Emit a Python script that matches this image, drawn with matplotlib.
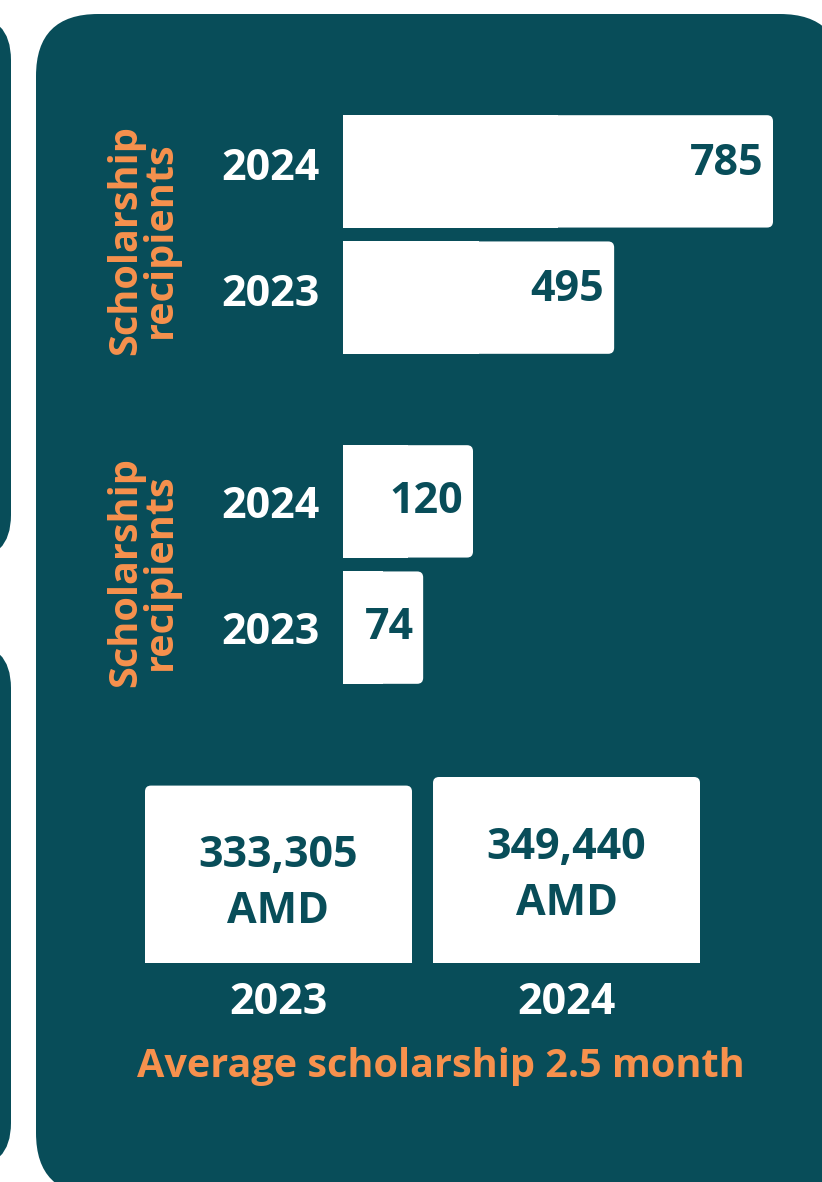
"""Scholarship recipients and average scholarship panel."""

import matplotlib.pyplot as plt
import matplotlib.transforms as mtransforms
from matplotlib.patches import FancyBboxPatch, Rectangle

TEAL = "#084d59"
ORANGE = "#f7914d"
FONT = "Open Sans"

# data
years_top = ["2023", "2024"]
recipients_top = [495, 785]
years_mid = ["2023", "2024"]
recipients_mid = [74, 120]
years_avg = ["2023", "2024"]
avg_amd = [333305, 349440]
avg_labels = ["333,305\nAMD", "349,440\nAMD"]
group_label = "Scholarship\nrecipients"
caption = "Average scholarship 2.5 month"

W, H = 822, 1182
fig = plt.figure(figsize=(W / 100, H / 100), dpi=100)
fig.patch.set_facecolor("white")


def frac(x0, y0, x1, y1):
    # pixel box (top-left origin) -> figure fraction rect
    return [x0 / W, 1 - y1 / H, (x1 - x0) / W, (y1 - y0) / H]


# background panels drawn in pixel space
bg = fig.add_axes([0, 0, 1, 1])
bg.set_xlim(0, W)
bg.set_ylim(H, 0)
bg.axis("off")


def rounded(x0, y0, x1, y1, r, color):
    bg.add_patch(
        FancyBboxPatch(
            (x0 + r, y0 + r),
            (x1 - x0) - 2 * r,
            (y1 - y0) - 2 * r,
            boxstyle=f"round,pad={r}",
            facecolor=color,
            edgecolor="none",
        )
    )


for box in [(-120, 15, 11, 560, 45), (-120, 643, 11, 1168, 45), (36, 14, 842, 1195, 62)]:
    rounded(*box, TEAL)


def round_bar(ax, bar, square_side):
    # redraw a bar in pixel space with rounded corners on the free end
    bar.set_visible(False)
    (dx0, dy0), (dx1, dy1) = ax.transData.transform(
        [(bar.get_x(), bar.get_y()), (bar.get_x() + bar.get_width(), bar.get_y() + bar.get_height())]
    )
    x0, x1 = sorted([dx0, dx1])
    y0, y1 = sorted([H - dy0, H - dy1])
    rounded(x0, y0, x1, y1, 6, "white")
    if square_side == "left":
        bg.add_patch(Rectangle((x0, y0), (x1 - x0) / 2, y1 - y0, color="white", lw=0))
    else:
        bg.add_patch(Rectangle((x0, (y0 + y1) / 2), x1 - x0, (y1 - y0) / 2, color="white", lw=0))


text_kw = dict(fontfamily=FONT, fontweight="bold", fontsize=31)


def hbar_panel(rect, years, values, xmax, dy=0):
    ax = fig.add_axes(rect)
    ax.set_facecolor("none")
    bars = ax.barh(range(len(values)), values, height=0.89, color="white")
    ax.set_xlim(0, xmax)
    ax.set_ylim(-0.4465, len(values) - 0.5535)
    ax.set_yticks(range(len(values)), years, color="white", **text_kw)
    ax.tick_params(axis="y", length=0, pad=17)
    shift = mtransforms.ScaledTranslation(0, dy / 72, fig.dpi_scale_trans)
    for lab in ax.get_yticklabels():
        lab.set_transform(lab.get_transform() + shift)
    ax.set_xticks([])
    for s in ax.spines.values():
        s.set_visible(False)
    for b, v in zip(bars, values):
        round_bar(ax, b, "left")
        ax.annotate(
            f"{v}",
            (b.get_width(), b.get_y() + b.get_height() / 2),
            xytext=(-7, dy),
            textcoords="offset points",
            ha="right",
            va="center",
            color=TEAL,
            **text_kw,
        )
    return ax


hbar_panel(frac(343, 115, 773, 354), years_top, recipients_top, 785, dy=6)
hbar_panel(frac(343, 445, 473, 684), years_mid, recipients_mid, 120)

for yc in [240, 572]:
    bg.text(
        143,
        yc,
        group_label,
        rotation=90,
        ha="center",
        va="center",
        color=ORANGE,
        linespacing=0.85,
        fontfamily=FONT,
        fontweight="bold",
        fontsize=28.5,
    )

# average scholarship columns
ax3 = fig.add_axes(frac(145, 777, 700, 963))
ax3.set_facecolor("none")
cols = ax3.bar(range(len(avg_amd)), avg_amd, width=0.927, color="white")
ax3.set_xlim(-0.4635, len(avg_amd) - 0.5365)
ax3.set_ylim(0, max(avg_amd))
ax3.set_xticks(range(len(avg_amd)), years_avg, color="white", **text_kw)
ax3.tick_params(axis="x", length=0, pad=13)
ax3.set_yticks([])
for s in ax3.spines.values():
    s.set_visible(False)
for b, lab in zip(cols, avg_labels):
    round_bar(ax3, b, "bottom")
    ax3.annotate(
        lab,
        (b.get_x() + b.get_width() / 2, b.get_height()),
        xytext=(0, -35),
        textcoords="offset points",
        ha="center",
        va="top",
        color=TEAL,
        linespacing=1.4,
        **text_kw,
    )

bg.text(441, 1066, caption, ha="center", va="center", color=ORANGE,
        fontfamily=FONT, fontweight="bold", fontsize=28.5)

fig.savefig("out.png", dpi=100)
